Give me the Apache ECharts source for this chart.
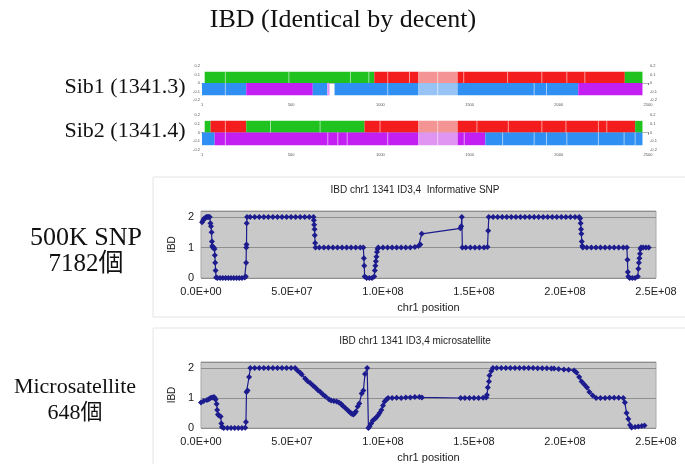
<!DOCTYPE html>
<html>
<head>
<meta charset="utf-8">
<script src="https://cdn.jsdelivr.net/npm/echarts@6/dist/echarts.min.js"></script>
<style>
  html, body { margin: 0; padding: 0; background: #fff; }
  #chart { width: 685px; height: 464px; }
</style>
</head>
<body>
<div id="chart"></div>
<script>
// genotype tracks: [state, start, end] in marker index units
const trackTicks = [0, 500, 1000, 1500, 2000, 2500];
const sib1Top = [['G', 15, 966], ['R', 966, 1213], ['r', 1213, 1433], ['R', 1433, 2370], ['G', 2370, 2469]];
const sib1Bottom = [['B', 0, 248], ['P', 248, 621], ['B', 621, 702], ['p', 702, 715], ['B', 743, 1213], ['b', 1213, 1433], ['B', 1433, 2109], ['P', 2109, 2469]];
const sib2Top = [['G', 15, 48], ['R', 48, 248], ['G', 248, 911], ['R', 911, 1213], ['r', 1213, 1433], ['R', 1433, 2428], ['G', 2428, 2469]];
const sib2Bottom = [['B', 0, 71], ['P', 71, 1213], ['p', 1213, 1433], ['P', 1433, 1588], ['B', 1588, 2469]];
// thin block borders inside the tracks
const sib1TopSep = [131, 487, 832, 935, 1041, 1163, 1321, 1467, 1713, 1905, 2045, 2146];
const sib1BottomSep = [131, 1041, 1321, 1862, 1931];
const sib2TopSep = [131, 384, 662, 998, 1321, 1541, 1717, 1905, 2040, 2222, 2269];
const sib2BottomSep = [131, 705, 761, 814, 1041, 1321, 1470, 1685, 1862, 1931, 2045, 2222, 2366, 2428];

// IBD curves: [position (Mb), IBD]
const snpIbd = [
  [0.6, 1.83], [1.2, 1.9], [1.8, 1.95], [2.4, 1.98], [3.0, 2], [3.6, 2], [4.2, 2], [4.8, 2],
  [5.2, 1.8], [5.5, 1.7], [5.8, 1.5], [6.0, 1.2], [6.2, 1.05], [6.5, 1.0], [7.0, 1.0], [7.4, 0.95],
  [7.6, 0.75], [7.8, 0.5], [8.0, 0.25], [8.3, 0.02], [9, 0], [10.5, 0], [12, 0], [13.5, 0], [15, 0],
  [16.5, 0], [18, 0], [19.5, 0], [21, 0], [22.5, 0], [24, 0.02], [24.6, 0.05], [24.8, 0.5], [24.9, 1.0],
  [25.0, 1.1], [25.1, 1.8], [25.3, 2.0], [27, 2], [29.5, 2], [32, 2], [34.5, 2], [37, 2], [39.5, 2],
  [42, 2], [44.5, 2], [47, 2], [49.5, 2], [52, 2], [54.5, 2], [57, 2], [59.5, 2], [61.8, 2],
  [62.0, 1.9], [62.2, 1.75], [62.4, 1.6], [62.5, 1.4], [62.7, 1.15], [62.9, 1.0], [65, 1], [67.5, 1],
  [70, 1], [72.5, 1], [75, 1], [77.5, 1], [80, 1], [82.5, 1], [85, 1], [87.5, 1], [89.2, 1],
  [89.5, 0.65], [89.7, 0.4], [89.9, 0.05], [91, 0], [92.5, 0], [94, 0], [95.2, 0.05], [95.5, 0.25],
  [95.8, 0.4], [96.1, 0.55], [96.4, 0.7], [96.7, 0.85], [97.0, 0.95], [97.4, 1.0], [100, 1], [102.5, 1],
  [105, 1], [107.5, 1], [110, 1], [112.5, 1], [115, 1], [117.5, 1.02], [119.5, 1.05], [120.5, 1.1],
  [121.3, 1.45], [142.5, 1.63], [143.0, 1.7], [143.3, 2.0], [143.6, 1.0], [145.5, 1], [148, 1],
  [150.5, 1], [153, 1], [155.5, 1], [157.4, 1.02], [157.8, 1.55], [158.1, 2.0], [160.5, 2], [163, 2],
  [165.5, 2], [168, 2], [170.5, 2], [173, 2], [175.5, 2], [178, 2], [180.5, 2], [183, 2], [185.5, 2],
  [188, 2], [190.5, 2], [193, 2], [195.5, 2], [198, 2], [200.5, 2], [203, 2], [205.5, 2], [207.8, 2],
  [208.3, 1.95], [208.6, 1.8], [208.8, 1.6], [209.0, 1.45], [209.2, 1.2], [209.5, 1.05], [209.8, 1.0],
  [212, 1], [214.5, 1], [217, 1], [219.5, 1], [222, 1], [224.5, 1], [227, 1], [229.5, 1], [232, 1],
  [234, 1.0], [234.3, 0.6], [234.5, 0.2], [234.8, 0.05], [235.5, 0], [237, 0], [238.5, 0], [240.0, 0.05],
  [240.3, 0.3], [240.6, 0.5], [240.9, 0.65], [241.2, 0.8], [241.5, 0.95], [241.8, 1.0], [243, 1],
  [244.5, 1], [246, 1]
];
const microIbd = [
  [0, 0.85], [1.5, 0.9], [3.3, 0.93], [4.3, 0.96], [5.2, 1.0], [6.1, 1.02], [7.1, 1.03], [7.6, 1.0],
  [8.0, 0.95], [8.6, 0.8], [8.9, 0.6], [9.3, 0.45], [9.9, 0.42], [10.8, 0.38], [11.2, 0.15], [11.5, 0.03],
  [12.5, 0], [14.5, 0], [16.5, 0], [18.5, 0], [20.5, 0], [22.5, 0], [24.3, 0.01], [24.7, 0.2],
  [25.0, 1.2], [25.6, 1.25], [26.4, 1.7], [27.1, 2.0], [29.5, 2], [32, 2], [34.5, 2], [37, 2],
  [39.5, 2], [42, 2], [44.5, 2], [47, 2], [49.5, 2], [51.7, 2.0], [53.0, 1.92], [54.5, 1.84],
  [55.4, 1.78], [57.2, 1.65], [58.5, 1.57], [60.0, 1.5], [61.5, 1.42], [62.8, 1.35], [64.2, 1.27],
  [65.6, 1.2], [67.0, 1.12], [68.4, 1.05], [70.3, 0.96], [71.5, 0.92], [73.0, 0.9], [74.5, 0.88],
  [75.8, 0.85], [77.0, 0.8], [77.7, 0.75], [79.0, 0.68], [80.5, 0.6], [81.5, 0.54], [82.3, 0.5],
  [83.0, 0.47], [83.8, 0.45], [84.5, 0.5], [85.1, 0.55], [86.1, 0.72], [87.0, 0.82], [88.3, 1.15],
  [89.2, 1.25], [90.1, 1.8], [91.3, 2.0], [92.0, 0.0], [92.6, 0.05], [93.5, 0.15], [94.4, 0.25],
  [95.4, 0.3], [96.3, 0.35], [97.2, 0.42], [98.1, 0.5], [99.1, 0.6], [100.0, 0.75], [100.9, 0.88],
  [101.9, 0.95], [102.8, 1.0], [105, 1.0], [107.5, 1.01], [110, 1.0], [112.5, 1.02], [115, 1.02],
  [117.5, 1.03], [120, 1.03], [121.4, 1.02], [142.7, 1.0], [145, 1.0], [147.5, 1.0], [150, 1.0],
  [152.5, 1.0], [155, 1.01], [156.7, 1.02], [157.1, 1.1], [157.6, 1.35], [158.2, 1.55], [158.5, 1.75],
  [159.5, 1.9], [160.4, 2.0], [162.5, 2.0], [165, 2.0], [167.5, 2.0], [170, 2.0], [172.5, 2.0],
  [175, 2.0], [177.5, 2.0], [180, 2.0], [182.5, 2.0], [185, 1.99], [187.5, 1.99], [190, 1.99],
  [192.5, 1.98], [194, 1.98], [196.5, 1.97], [199.4, 1.95], [202, 1.94], [205, 1.92], [206.3, 1.85],
  [207.8, 1.7], [209.1, 1.55], [210.6, 1.45], [212.1, 1.35], [213.4, 1.2], [215.2, 1.08], [217.1, 1.0],
  [219.5, 1.0], [222, 1.0], [224.5, 1.01], [227, 1.01], [229.5, 1.01], [232, 1.0], [232.9, 0.85],
  [233.8, 0.5], [234.8, 0.3], [235.7, 0.1], [236.6, 0.02], [238.5, 0.03], [240.3, 0.05], [242.2, 0.07],
  [243.7, 0.08]
];

const palette = {
  G: '#1fc21f', R: '#f41d1d', r: '#f59494',
  B: '#2f8ff2', b: '#97c4f5', P: '#c41ff2', p: '#e095f3'
};
const rowSpan = [[0, 0.133], [-0.145, 0]];
const serif = '"Liberation Serif", "Noto Sans CJK JP", serif';
const sans = '"Liberation Sans", Arial, sans-serif';
const ink = '#1c1c8e';

const chart = echarts.init(document.getElementById('chart'));

function blockSeries(grid, segs, row) {
  return {
    type: 'custom', xAxisIndex: grid * 2, yAxisIndex: grid * 2,
    data: segs.map(s => [s[1], s[2], row]),
    renderItem: (params, api) => {
      const s = segs[params.dataIndex];
      const p0 = api.coord([api.value(0), rowSpan[row][1]]);
      const p1 = api.coord([api.value(1), rowSpan[row][0]]);
      return {
        type: 'rect',
        shape: { x: p0[0], y: p0[1], width: p1[0] - p0[0], height: p1[1] - p0[1] },
        style: { fill: palette[s[0]] }
      };
    }
  };
}

function sepSeries(grid, seps, row) {
  return {
    type: 'custom', xAxisIndex: grid * 2, yAxisIndex: grid * 2, z: 3,
    data: seps.map(v => [v, row]),
    renderItem: (params, api) => {
      const a = api.coord([api.value(0), rowSpan[row][1]]);
      const b = api.coord([api.value(0), rowSpan[row][0]]);
      return {
        type: 'line',
        shape: { x1: a[0], y1: a[1], x2: b[0], y2: b[1] },
        style: { stroke: 'rgba(255,255,255,0.55)', lineWidth: 1 }
      };
    }
  };
}

const tiny = { fontSize: 4, color: '#555', fontFamily: sans };

function trackAxes(grid) {
  return {
    x: [
      {
        gridIndex: grid, type: 'value', min: 0, max: 2500, interval: 500, position: 'bottom',
        axisLine: { lineStyle: { color: '#777' } },
        axisTick: { length: 2, lineStyle: { color: '#777' } },
        axisLabel: { ...tiny, margin: 3, formatter: v => (v === 0 ? '1' : String(v)) },
        splitLine: { show: false }
      },
      {
        gridIndex: grid, type: 'value', min: 0, max: 2500, position: 'top',
        axisLine: { lineStyle: { color: '#b5b5b5' } },
        axisTick: { show: false }, axisLabel: { show: false }, splitLine: { show: false }
      }
    ],
    y: [
      {
        gridIndex: grid, type: 'value', min: -0.2, max: 0.2, interval: 0.1, position: 'left',
        axisLine: { show: false }, axisTick: { show: false }, splitLine: { show: false },
        axisLabel: { ...tiny, margin: 2 }
      },
      {
        gridIndex: grid, type: 'value', min: -0.2, max: 0.2, interval: 0.1, position: 'right',
        axisLine: { show: false }, axisTick: { show: false }, splitLine: { show: false },
        axisLabel: { ...tiny, margin: 2 }
      }
    ]
  };
}

const sci = v => {
  if (v === 0) return '0.0E+00';
  const e = Math.floor(Math.log10(v));
  return (v / Math.pow(10, e)).toFixed(1) + 'E+' + String(e).padStart(2, '0');
};

function ibdAxes(grid) {
  return {
    x: {
      gridIndex: grid, type: 'value', min: 0, max: 2.5e8, interval: 5e7,
      axisLine: { show: false }, axisTick: { show: false }, splitLine: { show: false },
      axisLabel: { formatter: sci, fontSize: 11, color: '#222', margin: 8, fontFamily: sans },
      name: 'chr1 position', nameLocation: 'middle', nameGap: 24,
      nameTextStyle: { fontSize: 11, color: '#222', fontFamily: sans }
    },
    y: {
      gridIndex: grid, type: 'value', min: 0, max: 2.2, interval: 1,
      axisLine: { show: false }, axisTick: { show: false },
      splitLine: { lineStyle: { color: '#8e8e8e', width: 1 } },
      axisLabel: {
        fontSize: 11, color: '#222', margin: 7, fontFamily: sans, showMaxLabel: false,
        formatter: v => (Number.isInteger(v) ? String(v) : '')
      },
      name: 'IBD', nameLocation: 'middle', nameGap: 24, nameRotate: 90,
      nameTextStyle: { fontSize: 10, color: '#222', fontFamily: sans }
    }
  };
}

function ibdSeries(grid, pts) {
  return {
    type: 'line', xAxisIndex: 4 + grid - 2, yAxisIndex: 4 + grid - 2,
    data: pts.map(p => [p[0] * 1e6, p[1]]),
    symbol: 'diamond', symbolSize: 6, showAllSymbol: true,
    lineStyle: { color: ink, width: 1.2 }, itemStyle: { color: ink },
    z: 4
  };
}

const t0 = trackAxes(0), t1 = trackAxes(1), a2 = ibdAxes(2), a3 = ibdAxes(3);

const option = {
  animation: false,
  backgroundColor: '#fff',
  grid: [
    { left: 202, right: 37, top: 66, height: 34 },
    { left: 202, right: 37, top: 115, height: 35 },
    { left: 201, right: 29, top: 211, height: 67, show: true, backgroundColor: '#c9c9c9', borderColor: '#a9a9a9', borderWidth: 1 },
    { left: 201, right: 29, top: 362, height: 66, show: true, backgroundColor: '#c9c9c9', borderColor: '#a9a9a9', borderWidth: 1 }
  ],
  xAxis: [...t0.x, ...t1.x, a2.x, a3.x],
  yAxis: [...t0.y, ...t1.y, a2.y, a3.y],
  graphic: [
    { type: 'rect', shape: { x: 153, y: 177, width: 540, height: 140 }, style: { fill: 'none', stroke: '#e4e4e4', lineWidth: 1 }, z: -10 },
    { type: 'rect', shape: { x: 153, y: 328, width: 540, height: 140 }, style: { fill: 'none', stroke: '#e4e4e4', lineWidth: 1 }, z: -10 },
    { type: 'text', x: 343, y: 20, style: { text: 'IBD (Identical by decent)', font: '26px ' + serif, fill: '#111', align: 'center', verticalAlign: 'middle' } },
    { type: 'text', x: 125, y: 87, style: { text: 'Sib1 (1341.3)', font: '22px ' + serif, fill: '#111', align: 'center', verticalAlign: 'middle' } },
    { type: 'text', x: 125, y: 131, style: { text: 'Sib2 (1341.4)', font: '22px ' + serif, fill: '#111', align: 'center', verticalAlign: 'middle' } },
    { type: 'text', x: 86, y: 238, style: { text: '500K SNP', font: '26px ' + serif, fill: '#111', align: 'center', verticalAlign: 'middle' } },
    { type: 'text', x: 86, y: 264, style: { text: '7182個', font: '25px ' + serif, fill: '#111', align: 'center', verticalAlign: 'middle' } },
    { type: 'text', x: 75, y: 387, style: { text: 'Microsatellite', font: '22px ' + serif, fill: '#111', align: 'center', verticalAlign: 'middle' } },
    { type: 'text', x: 75, y: 413, style: { text: '648個', font: '22px ' + serif, fill: '#111', align: 'center', verticalAlign: 'middle' } },
    { type: 'text', x: 415, y: 190, style: { text: 'IBD chr1 1341 ID3,4  Informative SNP', font: '10px ' + sans, fill: '#222', align: 'center', verticalAlign: 'middle' } },
    { type: 'text', x: 415, y: 341, style: { text: 'IBD chr1 1341 ID3,4 microsatellite', font: '10px ' + sans, fill: '#222', align: 'center', verticalAlign: 'middle' } }
  ],
  series: [
    blockSeries(0, sib1Top, 0), blockSeries(0, sib1Bottom, 1),
    sepSeries(0, sib1TopSep, 0), sepSeries(0, sib1BottomSep, 1),
    blockSeries(1, sib2Top, 0), blockSeries(1, sib2Bottom, 1),
    sepSeries(1, sib2TopSep, 0), sepSeries(1, sib2BottomSep, 1),
    ibdSeries(2, snpIbd), ibdSeries(3, microIbd)
  ]
};

chart.setOption(option);
</script>
</body>
</html>
